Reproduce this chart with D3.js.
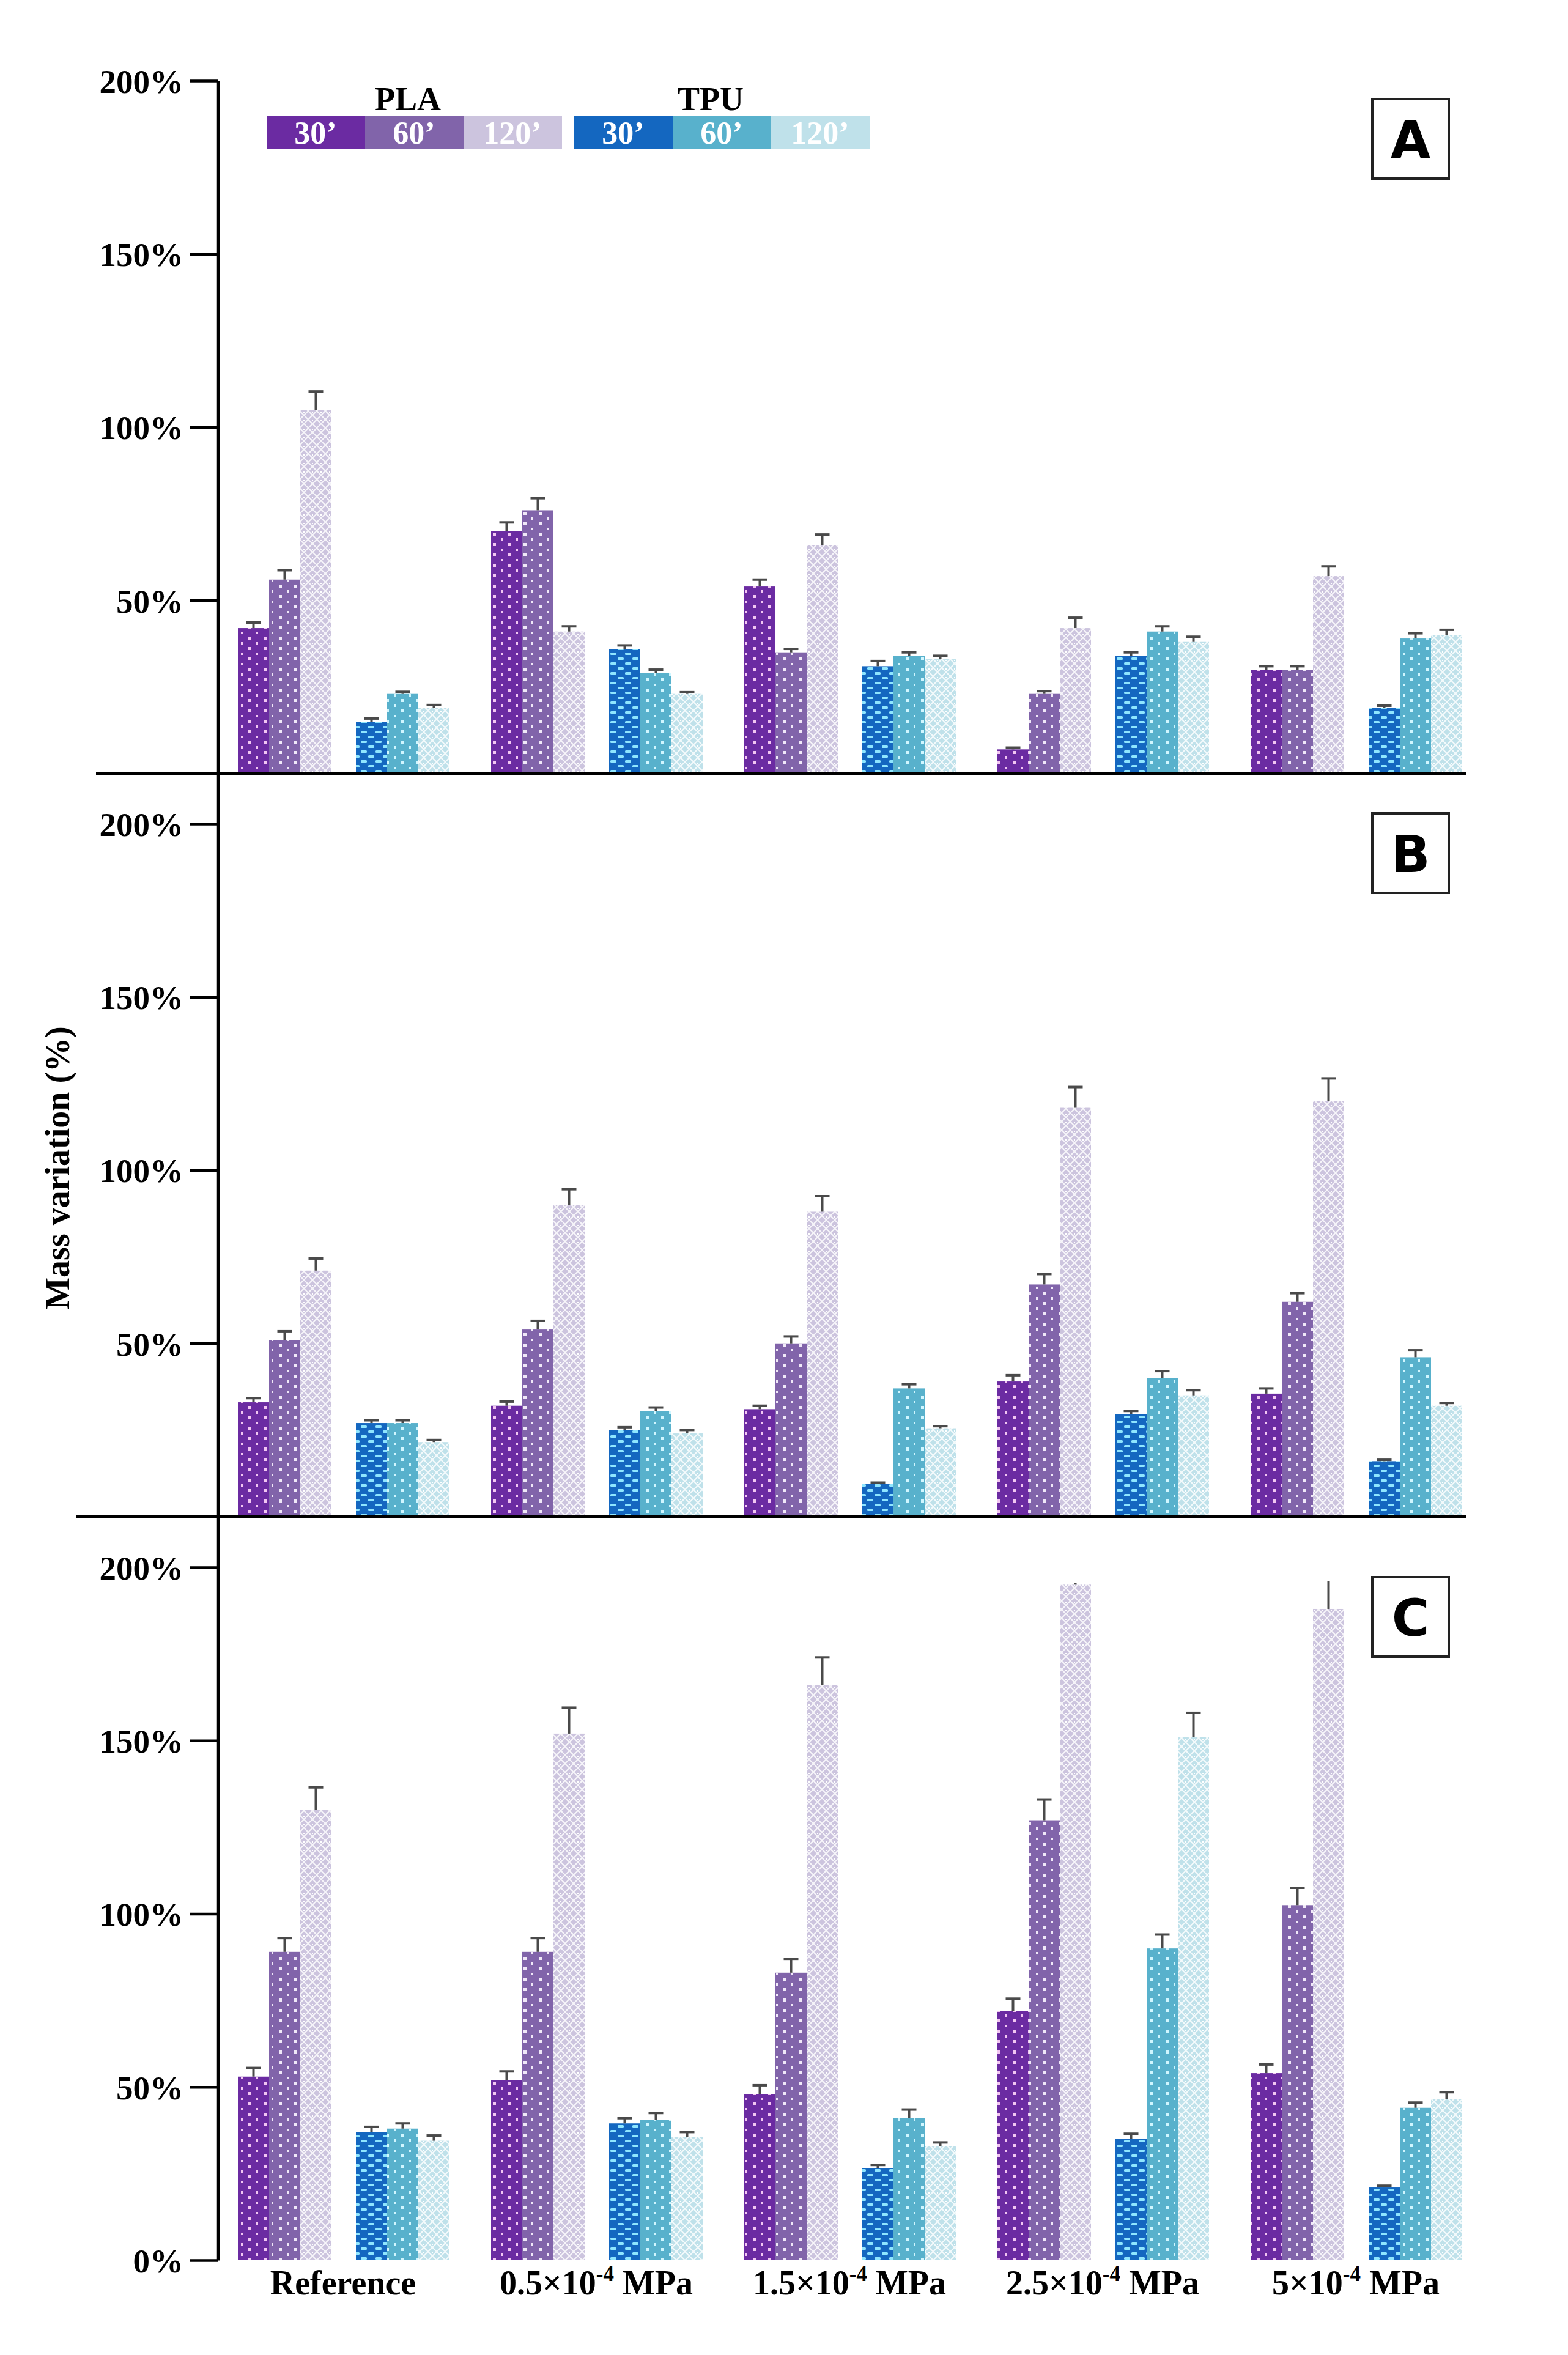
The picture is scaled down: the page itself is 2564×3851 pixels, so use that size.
<!DOCTYPE html>
<html>
<head>
<meta charset="utf-8">
<script src="https://cdn.jsdelivr.net/npm/d3@7"></script>
<style>
  body { margin: 0; background: #fff; }
  text { font-family: "Liberation Serif", "Times New Roman", serif; font-weight: bold; }
</style>
</head>
<body>
<svg id="chart" width="2564" height="3851"></svg>
<script>
// groups along the x axis
var categories = ["Reference", "0.5", "1.5", "2.5", "5"];
var catLabels = [["Reference"], ["0.5×10", "-4", " MPa"], ["1.5×10", "-4", " MPa"], ["2.5×10", "-4", " MPa"], ["5×10", "-4", " MPa"]];
var times = ["30’", "60’", "120’"];
var panels = ["A", "B", "C"];

// panel A (mean %, error %)
var pla30A = [42, 70, 54, 7, 30];
var pla60A = [56, 76, 35, 23, 30];
var pla120A = [105, 41, 66, 42, 57];
var tpu30A = [15, 36, 31, 34, 19];
var tpu60A = [23, 29, 34, 41, 39];
var tpu120A = [19, 23, 33, 38, 40];
var pla30A_err = [1.6, 2.5, 2, 0.5, 1];
var pla60A_err = [2.7, 3.5, 1, 0.8, 1];
var pla120A_err = [5.3, 1.5, 3, 3, 2.8];
var tpu30A_err = [0.9, 1, 1.5, 1, 0.6];
var tpu60A_err = [0.6, 1, 1, 1.5, 1.5];
var tpu120A_err = [0.8, 0.5, 1, 1.5, 1.5];

// panel B
var pla30B = [33, 32, 31, 39, 35.5];
var pla60B = [51, 54, 50, 67, 62];
var pla120B = [71, 90, 88, 118, 120];
var tpu30B = [27, 25, 9.5, 29.5, 16];
var tpu60B = [27, 30.5, 37, 40, 46];
var tpu120B = [21.5, 24, 25.5, 35, 32];
var pla30B_err = [1.2, 1.2, 1, 1.8, 1.5];
var pla60B_err = [2.5, 2.5, 2, 3, 2.5];
var pla120B_err = [3.5, 4.5, 4.5, 6, 6.5];
var tpu30B_err = [0.8, 0.8, 0.3, 1, 0.4];
var tpu60B_err = [0.8, 1, 1.2, 2, 2];
var tpu120B_err = [0.6, 1, 0.6, 1.5, 0.8];

// panel C
var pla30C = [53, 52, 48, 72, 54];
var pla60C = [89, 89, 83, 127, 102.5];
var pla120C = [130, 152, 166, 195, 188];
var tpu30C = [37, 39.5, 26.5, 35, 21];
var tpu60C = [38, 40.5, 41, 90, 44];
var tpu120C = [34.5, 35.5, 33, 151, 46.5];
var pla30C_err = [2.5, 2.5, 2.5, 3.5, 2.5];
var pla60C_err = [4, 4, 4, 6, 5];
var pla120C_err = [6.5, 7.5, 8, 0.5, 8];
var tpu30C_err = [1.5, 1.5, 1, 1.5, 0.5];
var tpu60C_err = [1.5, 2, 2.5, 4, 1.5];
var tpu120C_err = [1.5, 1.5, 1, 7, 2];

var yTicksAB = [50, 100, 150, 200];
var yTicksC = [0, 50, 100, 150, 200];

var panelData = [
    { pla: [pla30A, pla60A, pla120A], tpu: [tpu30A, tpu60A, tpu120A],
      plaErr: [pla30A_err, pla60A_err, pla120A_err], tpuErr: [tpu30A_err, tpu60A_err, tpu120A_err], ticks: yTicksAB },
    { pla: [pla30B, pla60B, pla120B], tpu: [tpu30B, tpu60B, tpu120B],
      plaErr: [pla30B_err, pla60B_err, pla120B_err], tpuErr: [tpu30B_err, tpu60B_err, tpu120B_err], ticks: yTicksAB },
    { pla: [pla30C, pla60C, pla120C], tpu: [tpu30C, tpu60C, tpu120C],
      plaErr: [pla30C_err, pla60C_err, pla120C_err], tpuErr: [tpu30C_err, tpu60C_err, tpu120C_err], ticks: yTicksC }
];

var plaColors = ["#6b2ba2", "#8164aa", "#ccc4de"];
var tpuColors = ["#1467c0", "#58b1cc", "#bfe1ea"];

var svg = d3.select("#chart");
var defs = svg.append("defs");

// bar fill patterns
function dotPattern(id, bg, dot, w, h) {
    var p = defs.append("pattern").attr("id", id)
        .attr("patternUnits", "userSpaceOnUse").attr("width", w).attr("height", h);
    p.append("rect").attr("width", w).attr("height", h).attr("fill", bg);
    p.append("rect").attr("x", 6).attr("y", 4).attr("width", 5).attr("height", 5).attr("fill", dot);
    p.append("rect").attr("x", 19).attr("y", 13).attr("width", 3).attr("height", 4).attr("fill", dot);
}
function latticePattern(id, bg) {
    var p = defs.append("pattern").attr("id", id)
        .attr("patternUnits", "userSpaceOnUse").attr("width", 14).attr("height", 14);
    p.append("rect").attr("width", 14).attr("height", 14).attr("fill", bg);
    p.append("path").attr("d", "M0,0 L14,14 M14,0 L0,14")
        .attr("stroke", "#ffffff").attr("stroke-width", 2).attr("stroke-opacity", 0.85);
    p.append("rect").attr("x", 6).attr("y", 1).attr("width", 2).attr("height", 2).attr("fill", "#fff");
}
function brickPattern(id, bg, dash) {
    var p = defs.append("pattern").attr("id", id)
        .attr("patternUnits", "userSpaceOnUse").attr("width", 24).attr("height", 16);
    p.append("rect").attr("width", 24).attr("height", 16).attr("fill", bg);
    p.append("rect").attr("x", 2).attr("y", 3).attr("width", 10).attr("height", 4).attr("rx", 1.5).attr("fill", dash);
    p.append("rect").attr("x", 14).attr("y", 11).attr("width", 10).attr("height", 4).attr("rx", 1.5).attr("fill", dash);
}
dotPattern("pla30", plaColors[0], "#f2c6f2", 25, 17);
dotPattern("pla60", plaColors[1], "#f0e8f8", 25, 17);
latticePattern("pla120", plaColors[2]);
brickPattern("tpu30", tpuColors[0], "#8fe6ff");
dotPattern("tpu60", tpuColors[1], "#d0f6ff", 25, 17);
latticePattern("tpu120", tpuColors[2]);
var plaFills = ["url(#pla30)", "url(#pla60)", "url(#pla120)"];
var tpuFills = ["url(#tpu30)", "url(#tpu60)", "url(#tpu120)"];

// layout
var axisX = 357;
var panelTop = [132, 1347, 2563];
var panelH = 1133;
var boxY = [162, 1330, 2579];

var x0 = d3.scaleBand().domain(categories).range([354, 354 + 414 * 5]);
var xPla = d3.scaleBand().domain([0, 1, 2]).range([35, 188]);
var xTpu = d3.scaleBand().domain([0, 1, 2]).range([228, 381]);

var yScales = panelTop.map(t => d3.scaleLinear().domain([0, 200]).range([t + panelH, t]));

// continuous vertical axis line across panels
svg.append("line")
    .attr("x1", axisX).attr("x2", axisX)
    .attr("y1", yScales[0](200)).attr("y2", yScales[2](0))
    .attr("stroke", "#000").attr("stroke-width", 4.5);

panelData.forEach(function (pd, pi) {
    var y = yScales[pi];
    var g = svg.append("g").attr("class", "panel");

    // bars
    function drawSet(values, errs, fills, xs) {
        values.forEach(function (series, si) {
            var bars = g.append("g").selectAll("rect")
                .data(series).enter();
            bars.append("rect")
                .attr("x", (d, i) => x0(categories[i]) + xs(si))
                .attr("y", d => y(d))
                .attr("width", xs.bandwidth())
                .attr("height", d => y(0) - y(d))
                .attr("fill", fills[si]);

            var eb = g.append("g").attr("stroke", "#4a4a4a").attr("stroke-width", 4);
            series.forEach(function (d, i) {
                var cx = x0(categories[i]) + xs(si) + xs.bandwidth() / 2;
                var top = d + errs[si][i];
                eb.append("line").attr("x1", cx).attr("x2", cx)
                    .attr("y1", y(d)).attr("y2", y(top));
                if (top < 190) {
                    eb.append("line").attr("x1", cx - 12).attr("x2", cx + 12)
                        .attr("y1", y(top)).attr("y2", y(top));
                }
            });
        });
    }
    drawSet(pd.pla, pd.plaErr, plaFills, xPla);
    drawSet(pd.tpu, pd.tpuErr, tpuFills, xTpu);

    // y axis
    var ax = g.append("g")
        .attr("transform", "translate(" + axisX + ",0)")
        .call(d3.axisLeft(y).tickValues(pd.ticks).tickFormat(d => d + "%")
            .tickSize(46).tickSizeOuter(0).tickPadding(11));
    ax.select(".domain").attr("stroke-width", 4.5);
    ax.selectAll(".tick line").attr("stroke-width", 4.5);
    ax.selectAll(".tick text")
        .attr("font-size", "55px")
        .attr("font-family", "Liberation Serif, serif")
        .attr("font-weight", "bold")
        .attr("fill", "#000")
        .attr("dy", "0.35em");

    // baseline for A and B
    if (pi < 2) {
        g.append("line")
            .attr("x1", pi === 0 ? 157 : 125).attr("x2", 2398)
            .attr("y1", y(0)).attr("y2", y(0))
            .attr("stroke", "#000").attr("stroke-width", 4.5);
    }

    // panel letter box
    g.append("rect")
        .attr("x", 2244).attr("y", boxY[pi])
        .attr("width", 125).attr("height", 130)
        .attr("fill", "#fff").attr("stroke", "#222").attr("stroke-width", 4);
    g.append("text")
        .attr("x", 2244 + 62.5).attr("y", boxY[pi] + 96)
        .attr("text-anchor", "middle")
        .style("font-family", "DejaVu Sans, sans-serif")
        .style("font-weight", "bold")
        .attr("font-size", "84px")
        .text(panels[pi]);
});

// x labels
var xl = svg.append("g").selectAll("text")
    .data(catLabels).enter()
    .append("text")
    .attr("x", (d, i) => x0(categories[i]) + x0.bandwidth() / 2)
    .attr("y", 3752)
    .attr("text-anchor", "middle")
    .attr("font-size", "56px");
xl.each(function (d) {
    var t = d3.select(this);
    t.append("tspan").text(d[0]);
    if (d.length > 1) {
        t.append("tspan").attr("dy", -22).attr("font-size", "35px").text(d[1]);
        t.append("tspan").attr("dy", 22).text(d[2]);
    }
});

// y axis title
svg.append("text")
    .attr("transform", "translate(113,1910) rotate(-90)")
    .attr("text-anchor", "middle")
    .attr("font-size", "56px")
    .text("Mass variation (%)");

// legend
var legend = svg.append("g").attr("class", "legend");
var legendGroups = [
    { name: "PLA", x: 436, labelX: 667, colors: plaColors },
    { name: "TPU", x: 939, labelX: 1162, colors: tpuColors }
];
legendGroups.forEach(function (lg) {
    legend.append("text")
        .attr("x", lg.labelX).attr("y", 180)
        .attr("text-anchor", "middle")
        .attr("font-size", "54px")
        .text(lg.name);
    var items = legend.append("g").selectAll("g")
        .data(times).enter()
        .append("g")
        .attr("transform", (d, i) => "translate(" + (lg.x + i * 161) + ",189)");
    items.append("rect")
        .attr("width", 161).attr("height", 54)
        .attr("fill", (d, i) => lg.colors[i]);
    items.append("text")
        .attr("x", 80).attr("y", 46)
        .attr("text-anchor", "middle")
        .attr("font-size", "52px")
        .attr("fill", "#fff")
        .text(d => d);
});
</script>
</body>
</html>
